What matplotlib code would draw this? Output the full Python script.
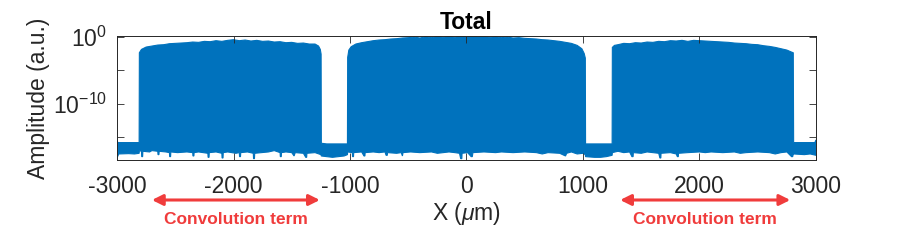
import numpy as np
import matplotlib
matplotlib.use("Agg")
import matplotlib.pyplot as plt
import matplotlib.transforms as mtransforms

plt.rcParams['font.family'] = ['Liberation Sans', 'DejaVu Sans']
plt.rcParams['mathtext.fontset'] = 'custom'
plt.rcParams['mathtext.rm'] = 'Liberation Sans'
plt.rcParams['mathtext.it'] = 'Liberation Sans:italic'

# ---- data: upper envelope (x in um, log10 amplitude) ----
top_x = [-3000, -2990, -2810,
         -2808, -2790, -2750, -2700, -2650, -2600, -2550, -2500, -2450, -2400, -2350,
         -2300, -2250, -2200, -2150, -2100, -2050, -2000, -1950, -1900, -1850, -1800,
         -1750, -1700, -1650, -1600, -1550, -1500, -1450, -1400, -1350, -1300, -1270,
         -1255, -1248, -1246,
         -1200, -1100, -1022,
         -1020, -1010, -990, -950, -900, -850, -800, -750, -700, -650, -600, -550,
         -500, -450, -400, -350, -300, -250, -200, -150, -100, -50, 0, 50, 100, 150,
         200, 250, 300, 350, 400, 450, 500, 550, 600, 650, 700, 750, 800, 850, 900,
         950, 990, 1010, 1020, 1022,
         1100, 1200, 1250,
         1252, 1270, 1300, 1350, 1400, 1450, 1500, 1550, 1600, 1650, 1700, 1750, 1800,
         1850, 1900, 1950, 2000, 2050, 2100, 2150, 2200, 2250, 2300, 2350, 2400, 2450,
         2500, 2550, 2600, 2650, 2700, 2750, 2790, 2805, 2808,
         2990, 3000]
top_log = [-15.6, -15.8, -15.8,
           -2.4, -1.9, -1.55, -1.4, -1.25, -1.2, -1.05, -1.0, -0.95, -0.9, -0.8,
           -0.85, -0.7, -0.75, -0.6, -0.7, -0.55, -0.45, -0.6, -0.5, -0.65, -0.55,
           -0.7, -0.65, -0.8, -0.75, -0.9, -0.85, -1.0, -0.95, -1.1, -1.1, -1.4,
           -1.9, -2.6, -15.9,
           -16.0, -16.0, -16.0,
           -3.1, -2.0, -1.5, -1.1, -0.9, -0.75, -0.6, -0.5, -0.45, -0.35, -0.3, -0.2,
           -0.15, -0.05, -0.2, 0.0, -0.15, 0.05, -0.1, 0.05, -0.1, 0.1, -0.05, 0.1, -0.05, 0.05,
           -0.1, 0.0, -0.15, -0.05, -0.2, -0.15, -0.25, -0.3, -0.35, -0.45, -0.5, -0.6, -0.7, -0.85, -1.0,
           -1.3, -1.8, -2.5, -3.2, -16.0,
           -16.0, -16.0, -16.0,
           -1.6, -1.3, -1.2, -1.0, -1.05, -0.9, -0.95, -0.8, -0.85, -0.7, -0.75, -0.6, -0.65,
           -0.55, -0.7, -0.55, -0.6, -0.65, -0.7, -0.75, -0.8, -0.85, -0.95, -1.0, -1.05, -1.15,
           -1.2, -1.35, -1.45, -1.6, -1.8, -2.0, -2.3, -2.4, -15.8,
           -15.8, -15.4]

# ---- data: lower envelope (x in um, log10 amplitude) ----
bot_x = [-3000, -2995, -2985, -2900, -2850, -2810,
         -2808, -2790, -2788, -2780, -2778, -2720, -2700, -2650, -2648, -2640, -2638,
         -2580, -2550, -2548, -2540, -2538, -2480, -2400, -2350, -2348, -2340, -2338,
         -2300, -2220, -2218, -2210, -2208, -2150, -2100, -2098, -2090, -2088, -2050,
         -1980, -1950, -1948, -1940, -1938, -1880, -1830, -1828, -1820, -1818, -1760,
         -1700, -1650, -1600, -1598, -1590, -1588, -1550, -1500, -1480, -1470, -1400,
         -1380, -1372, -1370, -1300, -1250,
         -1246, -1200, -1150, -1100, -1050, -1022,
         -1020, -980, -978, -970, -968, -900, -880, -872, -870, -800, -750, -700, -690,
         -680, -678, -600, -560, -550, -545, -480, -400, -300, -250, -200, -150, -100,
         -60, -50, -40, -38, 10, 40, 50, 55, 150, 250, 300, 400, 500, 600, 650, 700,
         800, 850, 860, 900, 950, 1000, 1020,
         1022, 1100, 1150, 1200, 1250,
         1252, 1300, 1350, 1400, 1420, 1430, 1432, 1500, 1550, 1600, 1650, 1660, 1668,
         1670, 1750, 1800, 1810, 1818, 1820, 1900, 2000, 2050, 2100, 2200, 2300, 2350,
         2400, 2500, 2600, 2650, 2700, 2750, 2790, 2800, 2805,
         2808, 2900, 2950, 3000]
bot_log = [-18.1, -17.9, -17.5, -17.45, -17.5, -17.4,
           -17.0, -17.1, -17.9, -17.9, -17.1, -17.2, -17.0, -17.1, -17.6, -17.6, -17.1,
           -17.2, -17.3, -17.9, -17.9, -17.2, -17.3, -17.2, -17.3, -17.8, -17.8, -17.3,
           -17.2, -17.4, -18.0, -18.0, -17.3, -17.2, -17.4, -18.1, -18.1, -17.3, -17.2,
           -17.4, -17.3, -17.9, -17.9, -17.3, -17.2, -17.4, -18.2, -18.2, -17.4, -17.3,
           -17.2, -17.0, -17.3, -17.9, -17.9, -17.3, -17.2, -17.3, -17.8, -17.3, -17.4,
           -18.0, -18.0, -17.4, -17.3, -17.6,
           -17.8, -17.9, -18.0, -17.9, -17.8, -17.6,
           -17.2, -17.3, -17.9, -17.9, -17.3, -17.2, -17.8, -17.8, -17.3, -17.2, -17.3, -17.2, -17.7,
           -17.7, -17.3, -17.4, -17.3, -17.8, -17.3, -17.2, -17.3, -17.2, -17.4, -17.3, -17.2, -17.3,
           -17.4, -18.2, -18.2, -17.4, -17.3, -17.9, -17.9, -17.3, -17.2, -17.3, -17.2, -17.3, -17.2, -17.3, -17.5, -17.3,
           -17.4, -17.8, -17.4, -17.2, -17.5, -17.4, -17.6,
           -17.9, -18.0, -18.0, -17.9, -17.7,
           -17.3, -17.1, -17.3, -17.2, -17.9, -17.9, -17.3, -17.4, -17.2, -17.3, -17.4, -18.1, -18.1,
           -17.4, -17.3, -17.5, -17.9, -17.9, -17.4, -17.3, -17.2, -17.3, -17.2, -17.3, -17.2, -17.4,
           -17.3, -17.2, -17.3, -17.5, -17.3, -17.2, -17.9, -17.9, -17.5,
           -17.5, -17.6, -17.5, -17.7]

x_ticks = [-3000, -2000, -1000, 0, 1000, 2000, 3000]
x_ticklabels = ['-3000', '-2000', '-1000', '0', '1000', '2000', '3000']
y_tick_exps = [-15, -10, -5, 0]
y_ticklabels = ['', '$10^{-10}$', '', '$10^{0}$']
arrow_spans = [(-2700, -1259), (1319, 2779)]
arrow_label = 'Convolution term'

blue = '#0072BD'
red = '#F03C3C'

fig = plt.figure(figsize=(9.02, 2.41), dpi=100)
ax = fig.add_axes([117/902, 1-160/241, (816-117)/902, (160-36)/241])

poly_x = np.r_[np.array(top_x, float), np.array(bot_x, float)[::-1]]
poly_y = 10.0 ** np.r_[np.array(top_log), np.array(bot_log)[::-1]]
ax.fill(poly_x, poly_y, color=blue, linewidth=0.8, edgecolor=blue)

ax.set_yscale('log')
ax.set_xlim(-3000, 3000)
ax.set_ylim(10**-18.4, 10**0.1)
ax.set_xticks(x_ticks)
ax.set_xticklabels(x_ticklabels)
ax.set_yticks([10.0**e for e in y_tick_exps])
ax.set_yticklabels(y_ticklabels)
ax.yaxis.set_minor_locator(matplotlib.ticker.NullLocator())

ax.tick_params(axis='both', direction='in', length=5, width=0.6, color='#262626',
               labelsize=16.5, labelcolor='#262626', top=True, right=True)
ax.tick_params(axis='x', pad=11)
ax.tick_params(axis='y', pad=7)
for s in ax.spines.values():
    s.set_color('#262626')
    s.set_linewidth(0.7)

ax.set_title('Total', fontsize=16.5, fontweight='bold', pad=5)
ax.set_xlabel('X ($\\mu$m)', fontsize=16.5, color='#262626', labelpad=1)
ax.set_ylabel('Amplitude (a.u.)', fontsize=16.5, color='#262626', labelpad=2)

trans = mtransforms.blended_transform_factory(ax.transData, fig.transFigure)
for x0, x1 in arrow_spans:
    ax.annotate('', xy=(x0, 1-200/241), xytext=(x1, 1-200/241), xycoords=trans, textcoords=trans,
                arrowprops=dict(arrowstyle='<|-|>', color=red, lw=2.2, mutation_scale=16,
                                shrinkA=0, shrinkB=0), annotation_clip=False)
    ax.text((x0 + x1) / 2, 1-220/241, arrow_label, transform=trans, ha='center', va='center',
            color=red, fontsize=12.5, fontweight='bold')

fig.savefig('out.png', dpi=100)
